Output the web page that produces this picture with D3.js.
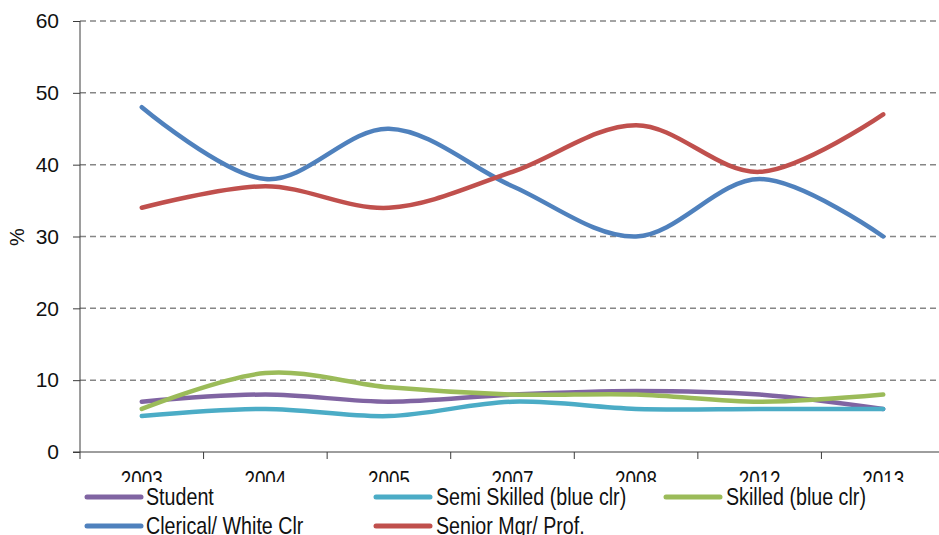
<!DOCTYPE html>
<html>
<head>
<meta charset="utf-8">
<script src="https://cdn.jsdelivr.net/npm/d3@7"></script>
<style>
  html, body { margin: 0; padding: 0; background: #fff; }
  svg { display: block; }
</style>
</head>
<body>
<svg id="chart" width="939" height="535"></svg>
<script>
// Survey years (categories)
const years = ["2003", "2004", "2005", "2007", "2008", "2012", "2013"];

// Share of respondents by occupation, %
const student      = [7, 8, 7, 8, 8.5, 8, 6];
const semiSkilled  = [5, 6, 5, 7, 6, 6, 6];
const skilled      = [6, 11, 9, 8, 8, 7, 8];
const clerical     = [48, 38, 45, 37, 30, 38, 30];
const seniorMgr    = [34, 37, 34, 39, 45.5, 39, 47];

const seriesNames  = ["Student", "Semi Skilled (blue clr)", "Skilled (blue clr)", "Clerical/ White Clr", "Senior Mgr/ Prof."];
const seriesValues = [student, semiSkilled, skilled, clerical, seniorMgr];
const seriesColors = ["#8064A2", "#4BACC6", "#9BBB59", "#4F81BD", "#C0504D"];

const yTicks = [0, 10, 20, 30, 40, 50, 60];

const svg = d3.select("#chart");
const plotLeft = 80, plotRight = 945, plotTop = 21, plotBottom = 452;

const x = d3.scaleBand().domain(years).range([plotLeft, plotRight]);
const y = d3.scaleLinear().domain([0, 60]).range([plotBottom, plotTop]);

const axisColor = "#3c3c3c";
const narrowFont = "'Liberation Sans Narrow', 'Liberation Sans', Arial, sans-serif";
const narrowScale = 0.82; // condense the regular face to a narrow width

// Dashed horizontal gridlines
svg.append("g")
  .selectAll("line")
  .data(yTicks.filter(d => d > 0))
  .join("line")
  .attr("x1", plotLeft).attr("x2", plotRight)
  .attr("y1", d => y(d)).attr("y2", d => y(d))
  .attr("stroke", "#868686")
  .attr("stroke-width", 1.5)
  .attr("stroke-dasharray", "6,4");

// Y axis
const yAxis = svg.append("g")
  .attr("transform", `translate(${plotLeft},0)`)
  .call(d3.axisLeft(y).tickValues(yTicks).tickSize(7).tickPadding(14).tickFormat(d3.format("d")));
yAxis.select(".domain").attr("stroke", axisColor).attr("d", `M0,${plotTop}V${plotBottom + 7}`);
yAxis.selectAll(".tick line").attr("stroke", axisColor);
yAxis.selectAll(".tick text")
  .attr("fill", "#111")
  .style("font-family", "'Liberation Sans', Arial, sans-serif")
  .style("font-size", "21px");

// X axis with ticks between categories
const xAxis = svg.append("g")
  .attr("transform", `translate(0,${plotBottom})`);
xAxis.append("line")
  .attr("x1", plotLeft - 7).attr("x2", plotRight)
  .attr("stroke", axisColor).attr("stroke-width", 1);
xAxis.selectAll("line.tk")
  .data(years.slice(1))
  .join("line")
  .attr("class", "tk")
  .attr("x1", d => x(d)).attr("x2", d => x(d))
  .attr("y1", 0).attr("y2", 7)
  .attr("stroke", axisColor);
xAxis.selectAll("text")
  .data(years)
  .join("text")
  .attr("transform", d => `translate(${x(d) + x.bandwidth() / 2},36) scale(${narrowScale},1)`)
  .attr("text-anchor", "middle")
  .attr("fill", "#111")
  .style("font-family", narrowFont)
  .style("font-size", "23px")
  .text(d => d);

// Y axis title
svg.append("text")
  .attr("transform", `translate(24,237) rotate(-90)`)
  .attr("text-anchor", "middle")
  .attr("fill", "#111")
  .style("font-family", "'Liberation Sans', Arial, sans-serif")
  .style("font-size", "20px")
  .text("%");

// Smoothed series lines
const line = d3.line()
  .x((d, i) => x(years[i]) + x.bandwidth() / 2)
  .y(d => y(d))
  .curve(d3.curveCardinal.tension(0));

svg.append("g")
  .selectAll("path")
  .data(seriesValues)
  .join("path")
  .attr("d", d => line(d))
  .attr("fill", "none")
  .attr("stroke", (d, i) => seriesColors[i])
  .attr("stroke-width", 4.5)
  .attr("stroke-linecap", "round")
  .attr("stroke-linejoin", "round");

// Legend (white panel overlaps the lower part of the year labels)
const legend = svg.append("g");
legend.append("rect")
  .attr("x", plotLeft).attr("y", 482)
  .attr("width", 939 - plotLeft).attr("height", 60)
  .attr("fill", "#fff");

const legendPos = [
  { lx: 87,  tx: 146, ly: 497 },
  { lx: 376, tx: 436, ly: 497 },
  { lx: 666, tx: 726, ly: 497 },
  { lx: 87,  tx: 146, ly: 526 },
  { lx: 376, tx: 436, ly: 526 }
];

const items = legend.selectAll("g.item")
  .data(seriesNames)
  .join("g")
  .attr("class", "item");
items.append("line")
  .attr("x1", (d, i) => legendPos[i].lx)
  .attr("x2", (d, i) => legendPos[i].lx + 54)
  .attr("y1", (d, i) => legendPos[i].ly)
  .attr("y2", (d, i) => legendPos[i].ly)
  .attr("stroke", (d, i) => seriesColors[i])
  .attr("stroke-width", 5)
  .attr("stroke-linecap", "round");
items.append("text")
  .attr("transform", (d, i) => `translate(${legendPos[i].tx},${legendPos[i].ly + 8}) scale(${narrowScale},1)`)
  .attr("fill", "#111")
  .style("font-family", narrowFont)
  .style("font-size", "24px")
  .text(d => d);
</script>
</body>
</html>
